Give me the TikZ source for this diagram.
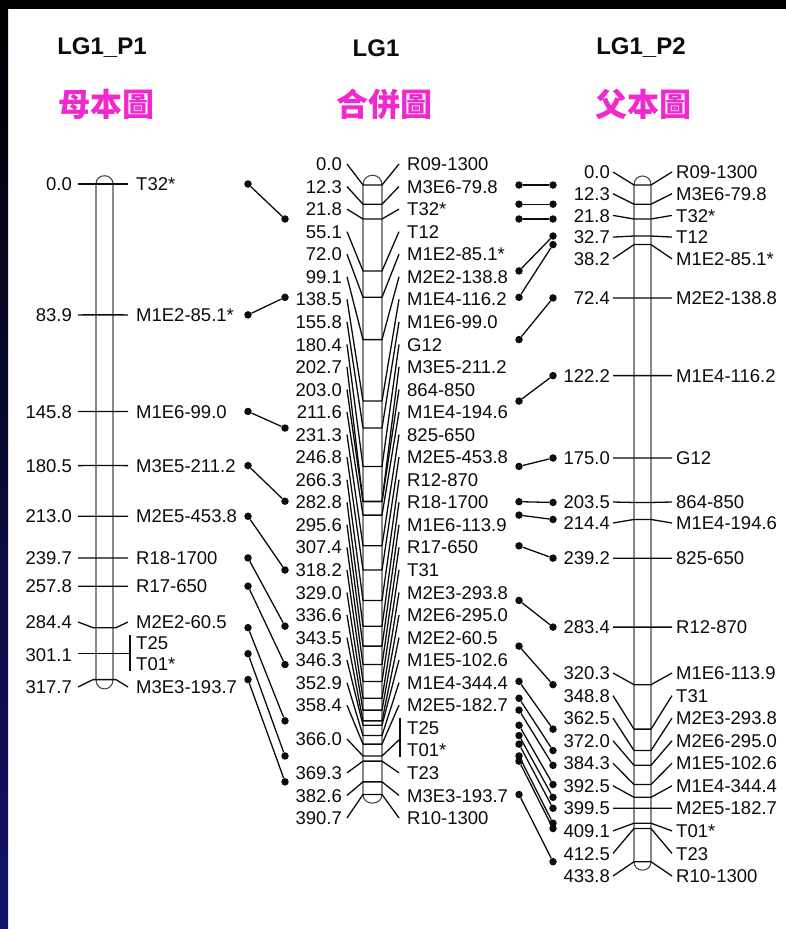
\documentclass[tikz,border=0pt]{standalone}
\usepackage{fontspec}
\setmainfont{Liberation Sans}
\newfontfamily\cjk{Noto Sans CJK TC}
\definecolor{ink}{RGB}{12,12,12}
\definecolor{mag}{RGB}{240,40,205}
\definecolor{navy}{RGB}{18,18,105}
\tikzset{
  num/.style={font=\fontsize{18.5}{20}\selectfont, inner sep=0pt, anchor=base east, text=ink},
  nam/.style={font=\fontsize{18.5}{20}\selectfont, inner sep=0pt, anchor=base west, text=ink},
  hdr/.style={font=\bfseries\fontsize{24}{28}\selectfont, inner sep=0pt, text=ink},
  cn/.style={font=\cjk\bfseries\fontsize{32}{34}\selectfont, inner sep=0pt, text=mag},
  ln/.style={draw=ink, line width=1.3pt, line join=round},
  chrom/.style={draw=ink!75, line width=1.1pt},
  dotc/.style={circle, fill=ink, inner sep=0pt, minimum size=7.5pt},
}
\begin{document}
\begin{tikzpicture}[x=1pt,y=-1pt]
\useasboundingbox (0,0) rectangle (786,929);
\fill[white] (0,0) rectangle (786,929);
\fill[black] (0,0) rectangle (786,9);
\shade[top color=black,bottom color=navy] (0,0) rectangle (8,929);

% headers
\node[hdr] (h1) at (102,48) {LG1\_P1};
\node[hdr] (h2) at (376,48) {LG1};
\node[hdr] (h3) at (641,48) {LG1\_P2};
\node[cn] (c1) at (106,104) {母本圖};
\node[cn] (c2) at (384,104) {合併圖};
\node[cn] (c3) at (643,104) {父本圖};

% ---------- LG1_P1 ----------
\draw[chrom] (96,184) -- (96,679.6) .. controls (96,692) and (113,692) .. (113,679.6)
  -- (113,184) .. controls (113,173) and (96,173) .. cycle;
\foreach \p/\yl/\nm [count=\i] in {0.0/184/T32*, 83.9/314.9/M1E2-85.1*, 145.8/411.4/M1E6-99.0,
  180.5/465.6/M3E5-211.2, 213.0/516.3/M2E5-453.8, 239.7/557.9/R18-1700, 257.8/586.2/R17-650,
  284.4/622/M2E2-60.5, 317.7/687/M3E3-193.7}{
  \pgfmathsetmacro\yt{184+1.56*\p}
  \draw[ln] (78,\yl) -- (93,\yt) -- (116,\yt) -- (128,\yl);
  \node[num] (pn\i) at (72,\yl+6.6) {\p};
  \node[nam] (pm\i) at (136,\yl+6.6) {\nm};
}
\draw[ln] (78,653.7) -- (130,653.7);
\draw[ln] (130,635) -- (130,671);
\node[num] (pn10) at (72,655+6.6) {301.1};
\node[nam] (pm10) at (136,643+6.6) {T25};
\node[nam] (pm11) at (136,664+6.6) {T01*};

% ---------- LG1 ----------
\draw[chrom] (363,185) -- (363,794.5) .. controls (363,806) and (382,806) .. (382,794.5)
  -- (382,185) .. controls (382,172) and (363,172) .. cycle;
\foreach \k/\p/\nm in {0/0.0/R09-1300, 1/12.3/M3E6-79.8, 2/21.8/T32*, 3/55.1/T12,
  4/72.0/M1E2-85.1*, 5/99.1/M2E2-138.8, 6/138.5/M1E4-116.2, 7/155.8/M1E6-99.0, 8/180.4/G12,
  9/202.7/M3E5-211.2, 10/203.0/864-850, 11/211.6/M1E4-194.6, 12/231.3/825-650,
  13/246.8/M2E5-453.8, 14/266.3/R12-870, 15/282.8/R18-1700, 16/295.6/M1E6-113.9,
  17/307.4/R17-650, 18/318.2/T31, 19/329.0/M2E3-293.8, 20/336.6/M2E6-295.0,
  21/343.5/M2E2-60.5, 22/346.3/M1E5-102.6, 23/352.9/M1E4-344.4, 24/358.4/M2E5-182.7,
  27/369.3/T23, 28/382.6/M3E3-193.7, 29/390.7/R10-1300}{
  \pgfmathsetmacro\yl{164+22.55*\k}
  \pgfmathsetmacro\yt{185+1.56*\p}
  \draw[ln] (347,\yl) -- (363,\yt) -- (382,\yt) -- (399,\yl);
  \node[num] (mn\k) at (342,\yl+6.6) {\p};
  \node[nam] (mm\k) at (407,\yl+6.6) {\nm};
}
\draw[ln] (347,739) -- (363,756) -- (382,756) -- (400,739);
\draw[ln] (400,718) -- (400,757);
\node[num] (mn25) at (342,739+6.6) {366.0};
\node[nam] (mm25) at (407,727.75+6.6) {T25};
\node[nam] (mm26) at (407,750.3+6.6) {T01*};

% ---------- LG1_P2 ----------
\draw[chrom] (634,185) -- (634,861.7) .. controls (634,873) and (651,873) .. (651,861.7)
  -- (651,185) .. controls (651,173) and (634,173) .. cycle;
\foreach \p/\yl/\nm [count=\i] in {0.0/172/R09-1300, 12.3/193.7/M3E6-79.8, 21.8/215.4/T32*,
  32.7/237.1/T12, 38.2/258.8/M1E2-85.1*, 72.4/297.9/M2E2-138.8, 122.2/375.6/M1E4-116.2,
  175.0/458/G12, 203.5/502/864-850, 214.4/523/M1E4-194.6, 239.2/558.2/825-650,
  283.4/627.1/R12-870, 320.3/673/M1E6-113.9, 348.8/695.6/T31, 362.5/718.1/M2E3-293.8,
  372.0/740.7/M2E6-295.0, 384.3/763.2/M1E5-102.6, 392.5/785.8/M1E4-344.4,
  399.5/808.3/M2E5-182.7, 409.1/830.9/T01*, 412.5/853.4/T23, 433.8/876/R10-1300}{
  \pgfmathsetmacro\yt{185+1.56*\p}
  \draw[ln] (613,\yl) -- (634,\yt) -- (651,\yt) -- (672,\yl);
  \node[num] (rn\i) at (610,\yl+6.6) {\p};
  \node[nam] (rm\i) at (676,\yl+6.6) {\nm};
}

% ---------- connectors P1 -> LG1 ----------
\foreach \a/\b [count=\i] in {0.0/21.8, 83.9/72.0, 145.8/155.8, 180.5/202.7, 213.0/246.8,
  239.7/282.8, 257.8/307.4, 284.4/343.5, 301.1/366.0, 317.7/382.6}{
  \node[dotc] (la\i) at (248,{184+1.56*\a}) {};
  \node[dotc] (lb\i) at (285,{185+1.56*\b}) {};
  \draw[ln] (la\i) -- (lb\i);
}
% ---------- connectors LG1 -> P2 ----------
\foreach \a/\b [count=\i] in {0.0/0.0, 12.3/12.3, 21.8/21.8, 55.1/32.7, 72.0/38.2, 99.1/72.4,
  138.5/122.2, 180.4/175.0, 203.0/203.5, 211.6/214.4, 231.3/239.2, 266.3/283.4, 295.6/320.3,
  318.2/348.8, 329.0/362.5, 336.6/372.0, 346.3/384.3, 352.9/392.5, 358.4/399.5, 366.0/409.1,
  369.3/412.5, 390.7/433.8}{
  \node[dotc] (ra\i) at (519,{185+1.56*\a}) {};
  \node[dotc] (rb\i) at (553,{185+1.56*\b}) {};
  \draw[ln] (ra\i) -- (rb\i);
}
\end{tikzpicture}
\end{document}
